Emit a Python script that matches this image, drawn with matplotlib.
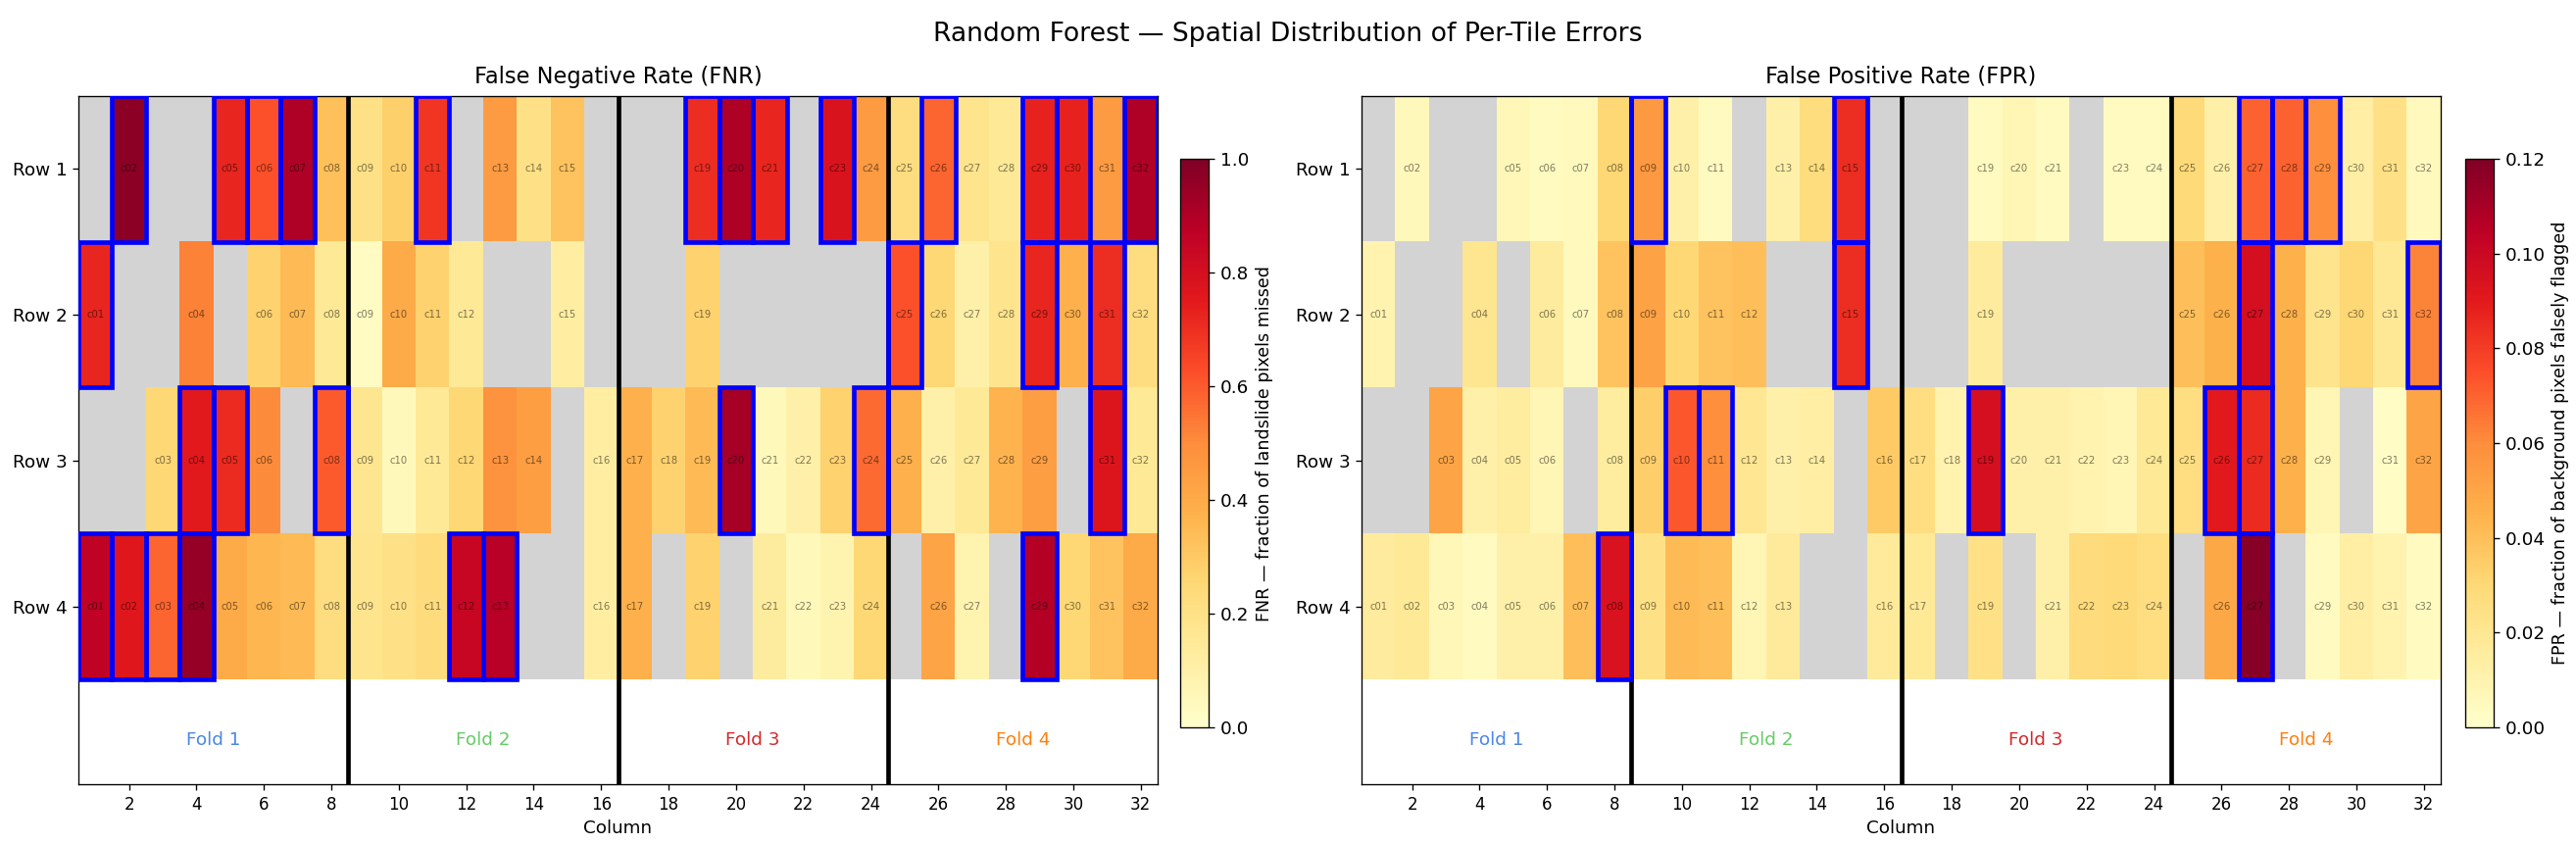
import numpy as np
import matplotlib
matplotlib.use("Agg")
import matplotlib.pyplot as plt
from matplotlib.patches import Rectangle

nan = np.nan

# per-tile error rates, 4 rows x 32 columns (NaN = no tile)
fnr_row1 = [nan, 0.97, nan, nan, 0.72, 0.62, 0.90, 0.33, 0.20, 0.28, 0.68, nan, 0.45, 0.20, 0.32, nan,
            nan, nan, 0.70, 0.90, 0.72, nan, 0.78, 0.45, 0.22, 0.58, 0.18, 0.15, 0.73, 0.73, 0.45, 0.90]
fnr_row2 = [0.72, nan, nan, 0.52, nan, 0.27, 0.35, 0.15, 0.03, 0.40, 0.27, 0.15, nan, nan, 0.12, nan,
            nan, nan, 0.27, nan, nan, nan, nan, nan, 0.62, 0.25, 0.10, 0.18, 0.72, 0.38, 0.70, 0.22]
fnr_row3 = [nan, nan, 0.25, 0.75, 0.71, 0.50, nan, 0.60, 0.17, 0.05, 0.15, 0.25, 0.48, 0.44, nan, 0.12,
            0.38, 0.27, 0.35, 0.92, 0.05, 0.10, 0.27, 0.57, 0.38, 0.10, 0.15, 0.37, 0.44, nan, 0.77, 0.15]
fnr_row4 = [0.86, 0.76, 0.58, 0.95, 0.40, 0.36, 0.35, 0.22, 0.18, 0.20, 0.23, 0.84, 0.88, nan, nan, 0.12,
            0.38, nan, 0.27, nan, 0.13, 0.05, 0.08, 0.25, nan, 0.42, 0.08, nan, 0.89, 0.25, 0.32, 0.40]

fpr_row1 = [nan, 0.006, nan, nan, 0.007, 0.004, 0.005, 0.030, 0.055, 0.012, 0.004, nan, 0.012, 0.027, 0.084, nan,
            nan, nan, 0.004, 0.008, 0.004, nan, 0.004, 0.004, 0.029, 0.012, 0.070, 0.070, 0.059, 0.014, 0.024, 0.005]
fpr_row2 = [0.010, nan, nan, 0.021, nan, 0.016, 0.005, 0.038, 0.051, 0.030, 0.038, 0.040, nan, nan, 0.084, nan,
            nan, nan, 0.016, nan, nan, nan, nan, nan, 0.040, 0.045, 0.096, 0.045, 0.022, 0.030, 0.019, 0.062]
fpr_row3 = [nan, nan, 0.050, 0.012, 0.015, 0.008, nan, 0.015, 0.034, 0.073, 0.059, 0.020, 0.012, 0.014, nan, 0.036,
            0.026, 0.010, 0.096, 0.012, 0.012, 0.010, 0.008, 0.018, 0.026, 0.090, 0.085, 0.045, 0.008, nan, 0.002, 0.050]
fpr_row4 = [0.016, 0.018, 0.007, 0.004, 0.012, 0.012, 0.040, 0.094, 0.024, 0.042, 0.040, 0.008, 0.017, nan, nan, 0.017,
            0.018, nan, 0.024, nan, 0.012, 0.028, 0.029, 0.026, nan, 0.049, 0.118, nan, 0.004, 0.014, 0.010, 0.004]

row_labels = ["Row 1", "Row 2", "Row 3", "Row 4"]
fold_names = ["Fold 1", "Fold 2", "Fold 3", "Fold 4"]
fold_colors = ["#4a86e8", "#66cc66", "#d62728", "#ff7f0e"]
fold_size = 8
fnr_thresh = 0.55
fpr_thresh = 0.053

fnr = np.array([fnr_row1, fnr_row2, fnr_row3, fnr_row4])
fpr = np.array([fpr_row1, fpr_row2, fpr_row3, fpr_row4])

W, H = 2628, 861
fig = plt.figure(figsize=(W / 120, H / 120), dpi=120)


def draw_panel(ax, cax, data, vmax, thresh, title, cbar_label):
    nrows, ncols = data.shape
    cmap = plt.get_cmap("YlOrRd").copy()
    cmap.set_bad("lightgrey")
    im = ax.imshow(np.ma.masked_invalid(data), cmap=cmap, vmin=0, vmax=vmax, aspect="auto",
                   interpolation="nearest", extent=(0.5, ncols + 0.5, nrows - 0.5, -0.5))
    for r in range(nrows):
        for c in range(ncols):
            v = data[r, c]
            if np.isnan(v):
                continue
            ax.text(c + 1, r, f"c{c + 1:02d}", ha="center", va="center", fontsize=6,
                    color="black", alpha=0.5)
            if v > thresh:
                ax.add_patch(Rectangle((c + 0.5, r - 0.5), 1, 1, fill=False, edgecolor="blue",
                                       lw=2.8, zorder=4))
    for k in range(1, ncols // fold_size):
        ax.axvline(k * fold_size + 0.5, color="black", lw=2.8, zorder=3)
    for k, (name, col) in enumerate(zip(fold_names, fold_colors)):
        ax.text(k * fold_size + (fold_size + 1) / 2, 3.92, name, ha="center", va="center",
                fontsize=11, color=col)
    ax.set_xlim(0.5, ncols + 0.5)
    ax.set_ylim(4.22, -0.5)
    ax.set_xticks(np.arange(2, ncols + 1, 2))
    ax.set_yticks(range(nrows))
    ax.set_yticklabels(row_labels, fontsize=11)
    ax.tick_params(axis="x", labelsize=10)
    ax.set_xlabel("Column", fontsize=11)
    ax.set_title(title, fontsize=13.5, pad=8)
    cb = fig.colorbar(im, cax=cax)
    cb.set_label(cbar_label, fontsize=10.5)
    cb.ax.tick_params(labelsize=11)
    return im


ax_top, ax_bot = 98, 800
cb_top, cb_bot = 162, 742


def box(x0, x1, y0, y1):
    return [x0 / W, 1 - y1 / H, (x1 - x0) / W, (y1 - y0) / H]


ax1 = fig.add_axes(box(80, 1181, ax_top, ax_bot))
cax1 = fig.add_axes(box(1204, 1233, cb_top, cb_bot))
ax2 = fig.add_axes(box(1389, 2490, ax_top, ax_bot))
cax2 = fig.add_axes(box(2515, 2544, cb_top, cb_bot))

draw_panel(ax1, cax1, fnr, 1.0, fnr_thresh, "False Negative Rate (FNR)",
           "FNR — fraction of landslide pixels missed")
cax1.set_yticks(np.arange(0, 1.01, 0.2))
draw_panel(ax2, cax2, fpr, 0.12, fpr_thresh, "False Positive Rate (FPR)",
           "FPR — fraction of background pixels falsely flagged")
cax2.set_yticks(np.arange(0, 0.121, 0.02))

fig.suptitle("Random Forest — Spatial Distribution of Per-Tile Errors", fontsize=16, y=0.975)

fig.savefig("out.png", dpi=120)
